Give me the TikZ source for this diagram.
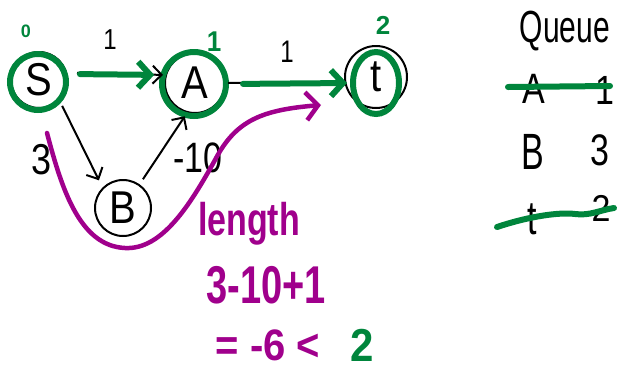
\documentclass[tikz,border=0pt]{standalone}
\usepackage{fontspec}
\usepackage{graphicx}
\setmainfont{Liberation Sans}
\usetikzlibrary{arrows.meta,shapes.geometric}
\definecolor{mygreen}{RGB}{0,133,60}
\definecolor{mypurple}{RGB}{160,0,140}
\newcommand\vstretch[2]{\scalebox{1}[#1]{#2}}
\begin{document}
\begin{tikzpicture}[x=1pt,y=-1pt,
  vertex/.style={circle,draw=black,line width=2pt,minimum size=56pt,inner sep=0pt,font=\fontsize{40}{40}\selectfont},
  ring/.style={circle,draw=mygreen,line width=6pt,inner sep=0pt,fill=none},
  edge/.style={draw=black,line width=2pt,-{Straight Barb[length=9pt,width=18pt,line width=2pt]}},
  gedge/.style={draw=mygreen,line width=6pt,line cap=round,-{Straight Barb[length=12pt,width=26pt,line width=6pt]}},
  gline/.style={draw=mygreen,line width=6pt,line cap=round},
  plabel/.style={text=mypurple,font=\bfseries\fontsize{34}{34}\selectfont,inner sep=0pt},
  glabel/.style={text=mygreen,font=\bfseries\fontsize{26}{26}\selectfont,inner sep=0pt},
  blabel/.style={text=black,font=\fontsize{24}{24}\selectfont,inner sep=0pt},
  qlabel/.style={text=black,font=\fontsize{34}{34}\selectfont,inner sep=0pt}
]
\useasboundingbox (0,0) rectangle (617,373);

% vertices
\node[vertex] (S) at (39,80) {\vstretch{1.15}{S}};
\node[vertex,minimum size=60pt] (A) at (195,83) {\vstretch{1.15}{A}};
\node[vertex,minimum size=62pt] (T) at (376,77) {\vstretch{1.15}{t}};
\node[vertex] (B) at (123,208) {\vstretch{1.15}{B}};

% green rings
\node[ring,minimum size=56pt] (Sring) at (38,82) {};
\node[ring,minimum size=64pt] (Aring) at (194,84) {};
\node[ring,ellipse,minimum width=46pt,minimum height=62pt] (Tring) at (376,83) {};

% black edges
\draw[edge,shorten <=10pt,shorten >=2pt] (S.15) -- (A.165);
\draw[edge,shorten <=2pt] (A.east) -- (T.190);
\draw[edge,shorten <=6pt,shorten >=8pt] (S.south east) -- (B.north west);
\draw[edge,shorten <=6pt,shorten >=4pt] (B.55) -- (A.255);

% green overlay edges
\draw[gedge,shorten <=12pt,shorten >=6pt] (Sring.15) -- (Aring.165);
\draw[gedge,shorten <=14pt,shorten >=3pt] (Aring.east) -- (Tring.west);

% edge labels
\node[blabel] (l1) at (110,40) {\vstretch{1.2}{1}};
\node[blabel] (l2) at (287,52) {\vstretch{1.3}{1}};
\node[blabel,font=\fontsize{36}{36}\selectfont] (l3) at (42,160) {\vstretch{1.2}{3}};
\node[blabel,font=\fontsize{34}{34}\selectfont] (l4) at (198,158) {\vstretch{1.25}{-10}};

% distance labels
\node[glabel,font=\bfseries\fontsize{18}{18}\selectfont] (d0) at (26,31) {0};
\node[glabel] (d1) at (214,42) {\vstretch{1.1}{1}};
\node[glabel] (d2) at (383,25) {2};

% purple path
\coordinate (pstart) at (47,133);
\coordinate (pmid) at (125,248);
\coordinate (pmid2) at (215,160);
\coordinate (pend) at (321,105);
\draw[draw=mypurple,line width=4.5pt,line cap=round,-{Straight Barb[length=12pt,width=28pt,line width=4.5pt]}]
  (pstart) .. controls (62,190) and (80,246) .. (pmid)
  .. controls (162,250) and (190,205) .. (pmid2)
  .. controls (236,120) and (262,110) .. (pend);

% purple text
\node[plabel] (len) at (249,224) {\vstretch{1.35}{length}};
\node[plabel,font=\bfseries\fontsize{38}{38}\selectfont] (sum) at (266,285) {\vstretch{1.4}{3-10+1}};
\node[plabel,font=\bfseries\fontsize{40}{40}\selectfont] (res) at (268,345) {\vstretch{1.1}{= -6 <}};
\node[glabel,font=\bfseries\fontsize{42}{42}\selectfont] (res2) at (362,345) {\vstretch{1.1}{2}};

% queue
\node[qlabel,font=\fontsize{30}{30}\selectfont] (q) at (565,31) {\vstretch{1.5}{Queue}};
\node[qlabel] (qa) at (534,89) {\vstretch{1.25}{A}};
\node[qlabel] (qa1) at (605,90) {\vstretch{1.2}{1}};
\node[qlabel] (qb) at (533,152) {\vstretch{1.5}{B}};
\node[qlabel] (qb3) at (600,150) {\vstretch{1.3}{3}};
\node[qlabel] (qt) at (532,219) {\vstretch{1.4}{t}};
\node[qlabel] (qt2) at (601,208) {\vstretch{1.1}{2}};
\coordinate (g1a) at (508,87);
\coordinate (g1b) at (610,86);
\draw[gline] (g1a) -- (g1b);
\coordinate (g2a) at (497,227);
\coordinate (g2b) at (614,208);
\draw[gline] (g2a) .. controls (530,216) and (560,212) .. (575,214) .. controls (590,216) and (600,210) .. (g2b);
\end{tikzpicture}
\end{document}
